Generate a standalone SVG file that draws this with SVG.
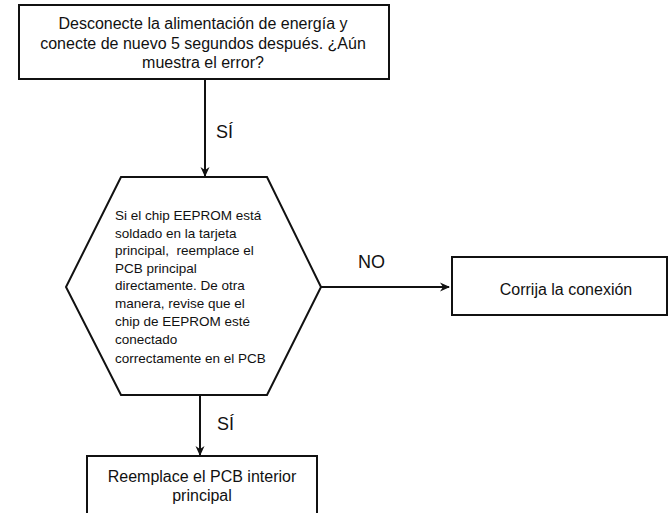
<svg xmlns="http://www.w3.org/2000/svg" width="668" height="513" viewBox="0 0 668 513">
<style>
.box{fill:#fff;stroke:#111;stroke-width:2}
.t{font-family:"Liberation Sans",Arial,sans-serif;fill:#111}
.c{text-anchor:middle;font-size:16px}
.h{font-size:13.5px}
.lbl{font-size:18px}
.ln{fill:none;stroke:#111;stroke-width:2}
</style>
<defs>
<marker id="ah" viewBox="0 0 10 10" refX="9" refY="5" markerWidth="10" markerHeight="10" markerUnits="userSpaceOnUse" orient="auto">
<path d="M0,0.5 L10,5 L0,9.5 L3,5 z" fill="#111"/>
</marker>
</defs>
<rect width="668" height="513" fill="#fff"/>
<g id="connectors">
<line class="ln" x1="205" y1="79" x2="205" y2="176" marker-end="url(#ah)"/>
<line class="ln" x1="321" y1="287" x2="449" y2="287" marker-end="url(#ah)"/>
<line class="ln" x1="200" y1="395" x2="200" y2="455" marker-end="url(#ah)"/>
<text class="t lbl" x="216" y="138">SÍ</text>
<text class="t lbl" x="358" y="268">NO</text>
<text class="t lbl" x="217" y="430">SÍ</text>
</g>
<g id="node-start">
<rect class="box" x="19" y="5" width="370" height="74"/>
<text class="t c" x="203" y="29">Desconecte la alimentación de energía y</text>
<text class="t c" x="203" y="49">conecte de nuevo 5 segundos después. ¿Aún</text>
<text class="t c" x="203" y="68">muestra el error?</text>
</g>
<g id="node-decision">
<polygon class="box" points="121,177 267,177 321,287 267,395 121,395 66,287"/>
<text class="t h" x="115" y="220">Si el chip EEPROM está</text>
<text class="t h" x="115" y="237.5">soldado en la tarjeta</text>
<text class="t h" x="115" y="255" xml:space="preserve">principal,  reemplace el</text>
<text class="t h" x="115" y="272.5">PCB principal</text>
<text class="t h" x="115" y="290">directamente. De otra</text>
<text class="t h" x="115" y="308">manera, revise que el</text>
<text class="t h" x="115" y="326">chip de EEPROM esté</text>
<text class="t h" x="115" y="344">conectado</text>
<text class="t h" x="115" y="363">correctamente en el PCB</text>
</g>
<g id="node-fix">
<rect class="box" x="452" y="257" width="215" height="58"/>
<text class="t c" x="566" y="295">Corrija la conexión</text>
</g>
<g id="node-replace">
<rect class="box" x="87" y="456" width="230" height="70"/>
<text class="t c" x="202" y="482">Reemplace el PCB interior</text>
<text class="t c" x="202" y="501">principal</text>
</g>
</svg>
